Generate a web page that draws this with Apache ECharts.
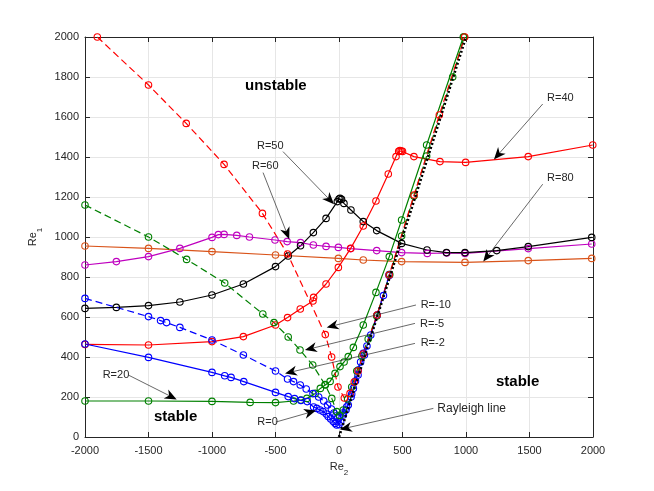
<!DOCTYPE html>
<html>
<head>
<meta charset="utf-8">
<script src="https://cdn.jsdelivr.net/npm/echarts@6/dist/echarts.min.js"></script>
<style>
html,body{margin:0;padding:0;background:#fff}
#main{width:654px;height:491px}
</style>
</head>
<body>
<div id="main"></div>
<script>
// values, [Re2, Re1]
var rm10 = [[-1903,2000],[-1500,1760],[-1203,1568],[-905,1363],[-603,1118],[-405,915],[-108,512],[-58,400],[-8,250],[42,195],[87,218],[120,275],[150,330],[191,415],[300,610],[395,810],[591,1210],[790,1610],[990,2000]]
var rm5 = [[-2000,1160],[-1500,1000],[-1200,888],[-900,770],[-600,615],[-512,572],[-400,500],[-307,435],[-207,360],[-110,262],[-57,193],[-18,127],[5,108],[34,135],[68,190],[100,250],[140,330],[180,405],[230,490],[297,605],[400,812],[493,1005],[590,1205],[690,1405],[895,1800],[985,2000]]
var rm2 = [[-2000,693],[-1500,602],[-1405,582],[-1358,572],[-1253,548],[-1000,485],[-753,410],[-500,330],[-405,290],[-358,277],[-305,260],[-258,240],[-205,217],[-160,200],[-120,180],[-90,160],[-60,140],[-40,120],[-25,105],[-10,95],[5,100],[30,120],[60,150],[100,215],[150,310],[200,410],[300,610],[395,812]]
var r0 = [[-2000,465],[-1500,398],[-1000,323],[-900,306],[-850,298],[-750,277],[-500,223],[-400,202],[-350,192],[-300,183],[-250,177],[-200,150],[-175,143],[-150,135],[-125,127],[-100,115],[-85,102],[-65,90],[-45,77],[-30,68],[-18,60],[0,62],[13,75],[34,110],[55,135],[73,160],[95,200],[113,243],[130,280],[152,335],[170,375],[191,418],[220,455],[250,510],[300,607],[350,707],[395,808]]
var r20 = [[-2000,180],[-1500,180],[-1000,178],[-700,173],[-500,172],[-358,180],[-300,185],[-253,193],[-187,218],[-147,243],[-108,260],[-70,278],[-31,318],[8,352],[40,375],[73,402],[113,448],[191,560],[291,723],[396,902],[493,1085],[690,1460],[979,2000]]
var r40 = [[-2000,463],[-1500,460],[-1000,477],[-753,502],[-500,560],[-405,597],[-305,640],[-205,680],[-200,698],[-102,765],[-5,848],[92,943],[191,1055],[291,1180],[388,1315],[449,1402],[470,1428],[480,1432],[490,1430],[500,1428],[590,1402],[795,1377],[997,1373],[1490,1402],[1998,1460]]
var r50 = [[-2000,643],[-1753,648],[-1500,657],[-1253,675],[-1000,710],[-753,765],[-500,852],[-400,905],[-303,956],[-202,1022],[-102,1093],[-13,1177],[0,1190],[8,1193],[20,1188],[39,1168],[94,1135],[191,1077],[297,1032],[493,968],[693,935],[846,922],[992,922],[1242,932],[1490,952],[1990,998]]
var r60 = [[-2000,860],[-1753,877],[-1500,902],[-1253,943],[-1000,998],[-950,1012],[-905,1013],[-805,1008],[-705,1000],[-504,985],[-408,977],[-303,972],[-202,960],[-102,953],[-5,948],[92,942],[297,932],[493,922],[695,918],[848,920],[992,918],[1490,942],[1990,965]]
var r80 = [[-2000,955],[-1500,943],[-1000,927],[-500,910],[-5,893],[191,885],[493,877],[992,873],[1490,882],[1990,893]]
var rayleigh = [[0,0],[1000,2000]]

// labels: text, text anchor (left-middle), arrow start, arrow tip — in data units
var notes = [
	{t: 'R=50', p: [-646,1455], a: [-441,1427], b: [-39,1164]},
	{t: 'R=60', p: [-685,1357], a: [-598,1322], b: [-392,989]},
	{t: 'R=40', p: [1638,1697], a: [1604,1665], b: [1220,1388]},
	{t: 'R=80', p: [1638,1297], a: [1604,1264], b: [1136,877]},
	{t: 'R=20', p: [-1861,310], a: [-1659,310], b: [-1278,188]},
	{t: 'R=0', p: [-643,75], a: [-496,75], b: [-181,132]},
	{t: 'R=-10', p: [643,660], a: [606,660], b: [-97,548]},
	{t: 'R=-5', p: [638,565], a: [598,568], b: [-268,435]},
	{t: 'R=-2', p: [643,468], a: [598,468], b: [-425,318]},
	{t: 'Rayleigh line', p: [774,140], a: [743,143], b: [8,38], size: 12}
]
var regions = [
	{t: 'unstable', p: [-740,1755]},
	{t: 'stable', p: [-1457,102]},
	{t: 'stable', p: [1236,277]}
]

var font = 'Liberation Sans'
var txt = '#262626'

function curve(name, data, color, dashed) {
	return {
		name: name,
		type: 'line',
		data: data,
		symbol: 'circle',
		symbolSize: 6.5,
		showSymbol: true,
		itemStyle: {color: 'rgba(0,0,0,0)', borderColor: color, borderWidth: 1.1},
		lineStyle: {color: color, width: 1.2, type: dashed ? [7, 4] : 'solid'},
		emphasis: {disabled: true},
		z: 3
	}
}

var chart = echarts.init(document.getElementById('main'))
var axisCommon = {
	axisLine: {show: true, onZero: false, lineStyle: {color: txt, width: 1}},
	axisTick: {show: true, inside: true, length: 5, lineStyle: {color: txt}}
}
var plain = function (v) { return String(v) }
var option = {
	animation: false,
	backgroundColor: '#fff',
	grid: {left: 85, right: 61, top: 37, bottom: 54},
	xAxis: [
		Object.assign({
			type: 'value', min: -2000, max: 2000, interval: 500, position: 'bottom',
			name: '{n|Re}{s|2}', nameLocation: 'middle', nameGap: 24,
			nameTextStyle: {rich: {
				n: {fontFamily: font, fontSize: 11, color: txt, lineHeight: 16, verticalAlign: 'top'},
				s: {fontFamily: font, fontSize: 8, color: txt, lineHeight: 16, verticalAlign: 'bottom'}
			}},
			axisLabel: {fontFamily: font, fontSize: 11, color: txt, margin: 8, formatter: plain},
			splitLine: {show: true, lineStyle: {color: '#e6e6e6', width: 1}}
		}, axisCommon),
		Object.assign({
			type: 'value', min: -2000, max: 2000, interval: 500, position: 'top',
			axisLabel: {show: false}, splitLine: {show: false}
		}, axisCommon)
	],
	yAxis: [
		Object.assign({
			type: 'value', min: 0, max: 2000, interval: 200, position: 'left',
			name: '{n|Re}{s|1}', nameLocation: 'middle', nameGap: 34, nameRotate: 90,
			nameTextStyle: {rich: {
				n: {fontFamily: font, fontSize: 11, color: txt, lineHeight: 16, verticalAlign: 'top'},
				s: {fontFamily: font, fontSize: 8, color: txt, lineHeight: 16, verticalAlign: 'bottom'}
			}},
			axisLabel: {fontFamily: font, fontSize: 11, color: txt, margin: 6, formatter: plain},
			splitLine: {show: true, lineStyle: {color: '#e6e6e6', width: 1}}
		}, axisCommon),
		Object.assign({
			type: 'value', min: 0, max: 2000, interval: 200, position: 'right',
			axisLabel: {show: false}, splitLine: {show: false}
		}, axisCommon)
	],
	series: [
		curve('R=80', r80, '#D95319', false),
		curve('R=60', r60, '#BF00BF', false),
		curve('R=50', r50, '#000000', false),
		curve('R=40', r40, '#FF0000', false),
		curve('R=20', r20, '#008000', false),
		curve('R=0', r0, '#0000FF', false),
		curve('R=-2', rm2, '#0000FF', true),
		curve('R=-5', rm5, '#008000', true),
		curve('R=-10', rm10, '#FF0000', true),
		{
			name: 'Rayleigh line', type: 'line', data: rayleigh, symbol: 'none',
			lineStyle: {color: '#000', width: 2.6, type: [2, 2.2]},
			emphasis: {disabled: true}, z: 4
		}
	]
}
chart.setOption(option)

function px(pt) {
	return chart.convertToPixel({xAxisIndex: 0, yAxisIndex: 0}, pt)
}
var g = []
notes.forEach(function (n) {
	var a = px(n.a), b = px(n.b), p = px(n.p)
	var dx = b[0] - a[0], dy = b[1] - a[1]
	var len = Math.sqrt(dx * dx + dy * dy)
	var ux = dx / len, uy = dy / len
	var L = 12, W = 5, N = 3.5
	g.push({type: 'line', shape: {x1: a[0], y1: a[1], x2: b[0] - ux * 6, y2: b[1] - uy * 6},
		style: {stroke: '#262626', lineWidth: 0.7}, z: 10})
	g.push({type: 'polygon', shape: {points: [
		[b[0], b[1]],
		[b[0] - ux * L - uy * W, b[1] - uy * L + ux * W],
		[b[0] - ux * (L - N), b[1] - uy * (L - N)],
		[b[0] - ux * L + uy * W, b[1] - uy * L - ux * W]
	]}, style: {fill: '#000'}, z: 10})
	g.push({type: 'text', x: p[0], y: p[1], style: {text: n.t, fontFamily: font, fontSize: n.size || 11,
		fill: txt, textAlign: 'left', textVerticalAlign: 'middle'}, z: 11})
})
regions.forEach(function (r) {
	var p = px(r.p)
	g.push({type: 'text', x: p[0], y: p[1], style: {text: r.t, fontFamily: font, fontSize: 15,
		fontWeight: 'bold', fill: '#000', textAlign: 'left', textVerticalAlign: 'middle'}, z: 11})
})
chart.setOption({graphic: g})
</script>
</body>
</html>
